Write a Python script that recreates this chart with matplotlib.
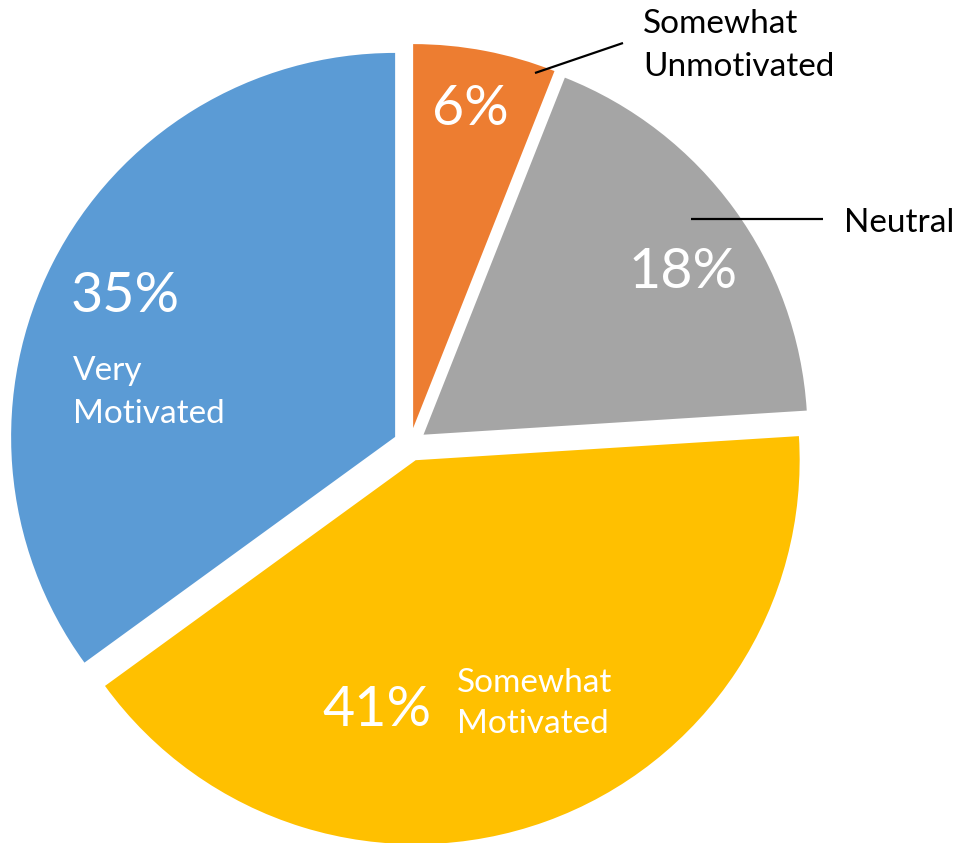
import matplotlib
matplotlib.use("Agg")
import matplotlib.pyplot as plt

plt.rcParams['font.family'] = ['Lato', 'DejaVu Sans']

# ---- data ----
categories = ["Somewhat\nUnmotivated", "Neutral", "Somewhat\nMotivated", "Very\nMotivated"]
values = [6, 18, 41, 35]
colors = ["#ED7D31", "#A5A5A5", "#FFC000", "#5B9BD5"]

W, H = 961, 843
CX, CY, R = 410.0, 444.5, 384.0   # pixel centre / radius of the pie
EXPLODE = 16.7 / R


def P(px, py):
    """image pixel -> data coords (radius 1 = R px)"""
    return ((px - CX) / R, (CY - py) / R)


fig = plt.figure(figsize=(W / 100, H / 100), dpi=100)
ax = fig.add_axes([0, 0, 1, 1])
ax.pie(values, colors=colors, startangle=90, counterclock=False,
       explode=[EXPLODE] * len(values), radius=1, center=(0, 0),
       wedgeprops=dict(linewidth=0))
ax.set_xlim(-CX / R, (W - CX) / R)
ax.set_ylim(-(H - CY) / R, CY / R)
ax.set_aspect('equal')
ax.axis('off')

PCT_SIZE = 40
LBL_SIZE = 24

# percentage labels: (left x, baseline y) in pixels
pct_pos = [(432, 125), (629, 288), (322, 726), (71, 312)]
for v, (px, py) in zip(values, pct_pos):
    ax.text(*P(px, py), f"{v}%", color="white", fontsize=PCT_SIZE,
            ha='left', va='baseline')

# category labels: (left x, first baseline y, line step, colour)
lbl_pos = [(643, 33, 43, "black"), (844, 232, 43, "black"),
           (457, 692, 41, "white"), (73, 380, 43, "white")]
for name, (px, py, step, col) in zip(categories, lbl_pos):
    for i, line in enumerate(name.split("\n")):
        ax.text(*P(px, py + i * step), line, color=col, fontsize=LBL_SIZE,
                ha='left', va='baseline')

# leader lines
leaders = [((535, 73), (623, 43)), ((691, 219), (823, 219))]
for (x0, y0), (x1, y1) in leaders:
    a, b = P(x0, y0), P(x1, y1)
    ax.plot([a[0], b[0]], [a[1], b[1]], color="black", lw=1.6,
            solid_capstyle='butt')

fig.savefig("out.png", dpi=100, facecolor="white")
